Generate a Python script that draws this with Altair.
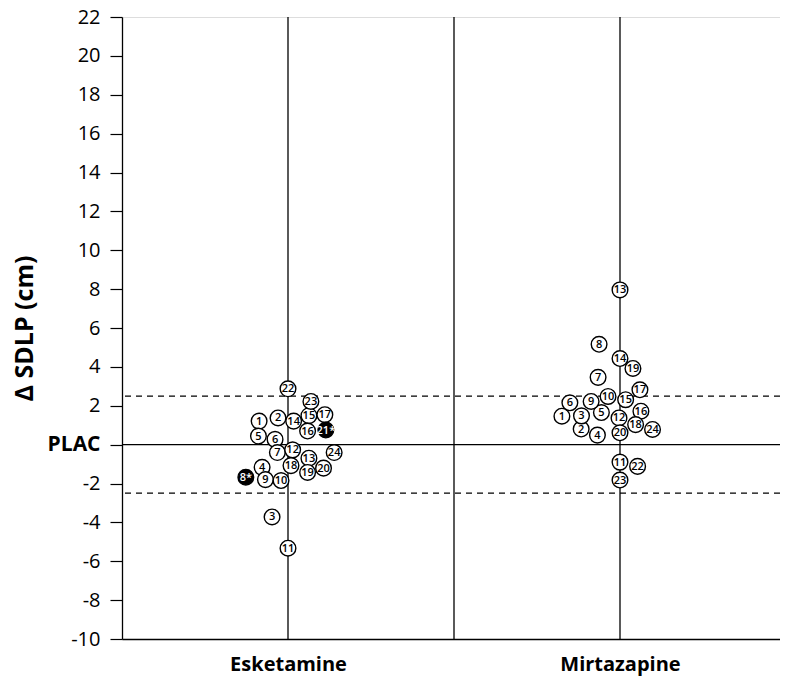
import altair as alt
import pandas as pd

# ---- data ----
groups = ["Esketamine", "Mirtazapine"]
group_centers = [0.5, 1.5]

esk_ids = [str(i) for i in range(1, 25)]
esk_values = [1.21, 1.37, -3.72, -1.17, 0.44, 0.27, -0.41, -1.68, -1.80, -1.85, -5.33, -0.27,
              -0.70, 1.21, 1.49, 0.70, 1.54, -1.08, -1.43, -1.21, 0.75, 2.87, 2.22, -0.41]
esk_jitter = [-0.087, -0.030, -0.048, -0.078, -0.089, -0.039, -0.032, -0.127, -0.068, -0.021, 0.0, 0.014,
              0.063, 0.017, 0.063, 0.059, 0.111, 0.009, 0.059, 0.107, 0.114, 0.0, 0.069, 0.139]
esk_flag = ["8", "21"]  # significant subjects (filled, marked *)

mir_ids = [str(i) for i in range(1, 21)] + ["22", "23", "24"]
mir_values = [1.46, 0.80, 1.48, 0.49, 1.65, 2.15, 3.46, 5.16, 2.22, 2.48, -0.90, 1.37,
              7.96, 4.43, 2.31, 1.72, 2.82, 1.03, 3.92, 0.61, -1.12, -1.82, 0.78]
mir_jitter = [-0.175, -0.117, -0.116, -0.068, -0.056, -0.151, -0.066, -0.063, -0.087, -0.036, 0.0, -0.003,
              0.0, 0.0, 0.017, 0.063, 0.060, 0.047, 0.039, 0.0, 0.053, 0.0, 0.098]
mir_flag = []

threshold = 2.5
y_ticks = list(range(-10, 23, 2))

# ---- build table ----
rows = []
for gi, (ids, vals, jit, flag) in enumerate([(esk_ids, esk_values, esk_jitter, esk_flag),
                                             (mir_ids, mir_values, mir_jitter, mir_flag)]):
    for i, v, j in zip(ids, vals, jit):
        sig = i in flag
        rows.append({"group": groups[gi], "x": group_centers[gi] + j, "y": v,
                     "label": i + "*" if sig else i, "sig": "yes" if sig else "no"})
df = pd.DataFrame(rows)

FONT = "Open Sans"

xscale = alt.Scale(domain=[0, 2], nice=False, zero=False, range=[0, 664])
yscale = alt.Scale(domain=[-10, 22], nice=False, zero=False)

xaxis = alt.Axis(values=group_centers, ticks=False, grid=False, title=None,
                 labelExpr="datum.value < 1 ? 'Esketamine' : 'Mirtazapine'",
                 labelFont=FONT, labelFontSize=20, labelFontWeight="bold", labelColor="black",
                 labelPadding=15, domainColor="black", domainWidth=1.3, labelFlush=False)
yaxis = alt.Axis(values=y_ticks, grid=False, title="Δ SDLP (cm)",
                 labelExpr="datum.value == 0 ? 'PLAC' : toString(datum.value)",
                 labelFontWeight=alt.ExprRef(expr="datum.value == 0 ? 'bold' : 'normal'"),
                 labelFontSize=alt.ExprRef(expr="datum.value == 0 ? 21 : 20"),
                 labelFont=FONT, labelColor="black", labelPadding=10,
                 tickSize=12, tickColor="black", tickWidth=1.2,
                 domainColor="black", domainWidth=1.3,
                 titleFont=FONT, titleFontSize=25, titleFontWeight="bold", titleColor="black",
                 titleAngle=-90, titleX=-98, titleAlign="center", titleBaseline="middle")


def X(field):
    return alt.X(field, type="quantitative", scale=xscale, axis=xaxis)


def Y(field):
    return alt.Y(field, type="quantitative", scale=yscale, axis=yaxis)


vlines = alt.Chart(pd.DataFrame({"x": [0.5, 1.0, 1.5]})).mark_rule(
    color="black", strokeWidth=1.3).encode(x=X("x"))
zero_line = alt.Chart(pd.DataFrame({"y": [0.0]})).mark_rule(
    color="black", strokeWidth=1.3).encode(y=Y("y"))
dashed = alt.Chart(pd.DataFrame({"y": [-threshold, threshold]})).mark_rule(
    color="black", strokeWidth=1.3, strokeDash=[6, 5]).encode(y=Y("y"))

circles = alt.Chart(df).mark_circle(size=245, stroke="black", strokeWidth=1.4, opacity=1).encode(
    x=X("x"), y=Y("y"),
    fill=alt.Fill("sig:N", scale=alt.Scale(domain=["no", "yes"], range=["white", "black"]), legend=None),
)
labels = alt.Chart(df).mark_text(font=FONT, fontSize=11, fontWeight=600, baseline="middle",
                                 align="center", dy=0.5).encode(
    x=X("x"), y=Y("y"), text="label:N",
    color=alt.Color("sig:N", scale=alt.Scale(domain=["no", "yes"], range=["black", "white"]), legend=None),
)

chart = alt.layer(vlines, zero_line, dashed, circles, labels).properties(
    width=658, height=622,
    autosize=alt.AutoSizeParams(type="none"),
    padding={"left": 114, "top": 9, "right": 0, "bottom": 42},
).configure_view(stroke=None).configure(background="white")

chart.save("out.html", embed_options={"renderer": "svg", "actions": False})
